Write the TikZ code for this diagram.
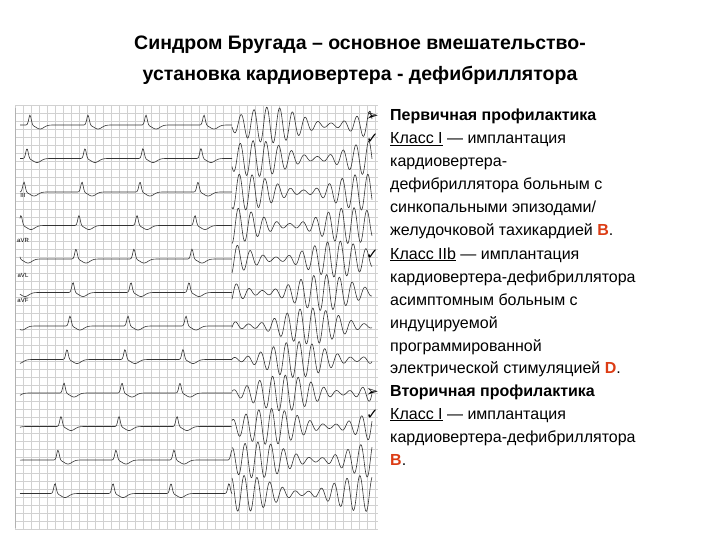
\documentclass[tikz,border=0pt]{standalone}
\usepackage{fontspec}
\setmainfont{Liberation Sans}
\newfontfamily\dv{DejaVu Sans}
\begin{document}
\begin{tikzpicture}[x=1pt,y=-1pt,
  tl/.style={anchor=base west,inner sep=0pt,font=\fontsize{16}{18}\selectfont},
  bl/.style={anchor=base west,inner sep=0pt,font=\dv\bfseries\fontsize{15}{16}\selectfont},
  ttl/.style={inner sep=0pt,font=\bfseries\fontsize{19.5}{22}\selectfont},
  trace/.style={black!80,line width=0.6pt}]
\useasboundingbox (0,0) rectangle (720,540);
\definecolor{hl}{RGB}{220,60,20}
\node[ttl] (t1) at (360,45) {Синдром Бругада – основное вмешательство-};
\node[ttl] (t2) at (360,75) {установка кардиовертера - дефибриллятора};
% ECG panel
\foreach \gx in {15,23,...,375}{\draw[black!18,line width=0.3pt] (\gx,105) -- (\gx,530);}
\foreach \gy in {105,113,...,529}{\draw[black!18,line width=0.3pt] (15,\gy) -- (378,\gy);}
\draw[black!30,line width=0.4pt] (15,108) -- (15,528);
\foreach \i in {0,...,11}{
  \pgfmathsetmacro{\yy}{125+\i*33.5}
  \draw[trace] plot[domain=20:232,samples=260,smooth] (\x,{\yy-10*exp(-((mod(\x+3*\i,58)-30)^2)/3)+4*exp(-((mod(\x+3*\i,58)-40)^2)/30)});
  \draw[trace] plot[domain=232:372,samples=280,smooth] (\x,{\yy+(10+8*sin(3*\x+40*\i))*sin(28*\x+25*\i)});
}
\node[inner sep=1pt,font=\fontsize{6}{7}\selectfont] (l1) at (23,195) {III};
\node[inner sep=1pt,font=\fontsize{6}{7}\selectfont] (l2) at (23,240) {aVR};
\node[inner sep=1pt,font=\fontsize{6}{7}\selectfont] (l3) at (23,275) {aVL};
\node[inner sep=1pt,font=\fontsize{6}{7}\selectfont] (l4) at (23,300) {aVF};
% bullets
\node[bl] (b1) at (366,121) {➢};
\node[bl] (b2) at (366,144) {✓};
\node[bl] (b3) at (366,259) {✓};
\node[bl] (b4) at (366,396) {➢};
\node[bl] (b5) at (366,419) {✓};
% text
\node[tl] (x1) at (390,121) {\bfseries Первичная профилактика};
\node[tl] (x2) at (390,144) {\underline{Класс I} — имплантация};
\node[tl] (x3) at (390,167) {кардиовертера-};
\node[tl] (x4) at (390,190) {дефибриллятора больным с};
\node[tl] (x5) at (390,213) {синкопальными эпизодами/};
\node[tl] (x6) at (390,236) {желудочковой тахикардией \textcolor{hl}{\bfseries B}.};
\node[tl] (x7) at (390,259) {\underline{Класс IIb} — имплантация};
\node[tl] (x8) at (390,282) {кардиовертера-дефибриллятора};
\node[tl] (x9) at (390,305) {асимптомным больным с};
\node[tl] (x10) at (390,328) {индуцируемой};
\node[tl] (x11) at (390,351) {программированной};
\node[tl] (x12) at (390,373) {электрической стимуляцией \textcolor{hl}{\bfseries D}.};
\node[tl] (x13) at (390,396) {\bfseries Вторичная профилактика};
\node[tl] (x14) at (390,419) {\underline{Класс I} — имплантация};
\node[tl] (x15) at (390,442) {кардиовертера-дефибриллятора};
\node[tl] (x16) at (390,465) {\textcolor{hl}{\bfseries B}.};
\end{tikzpicture}
\end{document}
